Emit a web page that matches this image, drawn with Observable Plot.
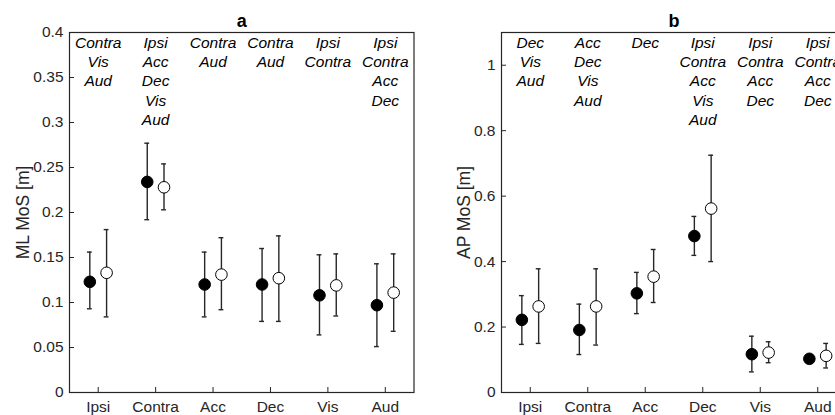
<!DOCTYPE html>
<html>
<head>
<meta charset="utf-8">
<script src="https://cdn.jsdelivr.net/npm/d3@7"></script>
<script src="https://cdn.jsdelivr.net/npm/@observablehq/plot@0.6"></script>
<style>
  html, body { margin: 0; padding: 0; background: white; }
  #wrap { position: relative; width: 835px; height: 415px; overflow: hidden; background: white; }
  #wrap > div { position: absolute; top: 0; }
  #pa { left: 0; width: 420px; }
  #pb { left: 420px; width: 440px; }
  svg { display: block; }
</style>
</head>
<body>
<div id="wrap"><div id="pa"></div><div id="pb"></div></div>
<script>
// Conditions along the x axis
const categories = ["Ipsi", "Contra", "Acc", "Dec", "Vis", "Aud"];

// Mediolateral margin of stability [m] — filled markers
const mlFilledMean = [0.123, 0.234, 0.120, 0.120, 0.108, 0.097];
const mlFilledLow  = [0.093, 0.192, 0.084, 0.079, 0.064, 0.051];
const mlFilledHigh = [0.156, 0.277, 0.156, 0.160, 0.153, 0.143];
// Mediolateral — open markers
const mlOpenMean = [0.133, 0.228, 0.131, 0.127, 0.119, 0.111];
const mlOpenLow  = [0.084, 0.203, 0.092, 0.079, 0.085, 0.068];
const mlOpenHigh = [0.181, 0.254, 0.172, 0.174, 0.154, 0.154];

// Anteroposterior margin of stability [m] — filled markers
const apFilledMean = [0.222, 0.191, 0.303, 0.478, 0.117, 0.103];
const apFilledLow  = [0.147, 0.116, 0.241, 0.419, 0.063, 0.096];
const apFilledHigh = [0.296, 0.270, 0.367, 0.538, 0.172, 0.110];
// Anteroposterior — open markers
const apOpenMean = [0.263, 0.263, 0.354, 0.562, 0.122, 0.112];
const apOpenLow  = [0.150, 0.145, 0.275, 0.400, 0.091, 0.075];
const apOpenHigh = [0.378, 0.378, 0.437, 0.725, 0.155, 0.150];

// Significant pairwise differences listed above each condition
const mlNotes = ["Contra\nVis\nAud", "Ipsi\nAcc\nDec\nVis\nAud", "Contra\nAud", "Contra\nAud", "Ipsi\nContra", "Ipsi\nContra\nAcc\nDec"];
const apNotes = ["Dec\nVis\nAud", "Acc\nDec\nVis\nAud", "Dec", "Ipsi\nContra\nAcc\nVis\nAud", "Ipsi\nContra\nAcc\nDec", "Ipsi\nContra\nAcc\nDec"];

// Axis ticks
const mlTicks = [0, 0.05, 0.1, 0.15, 0.2, 0.25, 0.3, 0.35, 0.4];
const apTicks = [0, 0.2, 0.4, 0.6, 0.8, 1];

const INK = "#262626";
const HEIGHT = 415, MT = 32, MB = 23;
const SHIFT = 0.146; // horizontal offset of the paired markers

function rows(filled, open) {
  const out = [];
  categories.forEach((c, i) => {
    out.push({x: i + 1 - SHIFT, mean: filled[0][i], lo: filled[1][i], hi: filled[2][i], open: false});
    out.push({x: i + 1 + SHIFT, mean: open[0][i], lo: open[1][i], hi: open[2][i], open: true});
  });
  return out;
}

function panel({data, notes, title, yLabel, yDomain, yTicks, width, marginLeft, marginRight, labelDx}) {
  const plotW = width - marginLeft - marginRight;
  const plotH = HEIGHT - MT - MB;
  const xs = d3.range(1, categories.length + 1);
  return Plot.plot({
    width, height: HEIGHT,
    marginTop: MT, marginBottom: MB, marginLeft, marginRight,
    x: {domain: [0.5, 6.5], axis: null},
    y: {domain: yDomain, axis: null},
    style: {fontFamily: "'Liberation Sans', Arial, sans-serif", fontSize: "15.5px", color: INK, background: "white"},
    marks: [
      Plot.frame({stroke: INK, strokeWidth: 1.2}),
      Plot.axisY({ticks: yTicks, tickSize: 0, tickPadding: 6, label: null, tickFormat: d => String(d), fill: INK}),
      Plot.tickY(yTicks, {y: d => d, insetRight: plotW - 5, stroke: INK, strokeWidth: 1}),
      Plot.axisX({ticks: xs, tickSize: 0, tickPadding: 8, label: null, tickFormat: i => categories[i - 1], fill: INK}),
      Plot.tickX(xs, {x: d => d, insetTop: plotH - 5, stroke: INK, strokeWidth: 1}),
      // error bars with caps
      Plot.ruleX(data, {x: "x", y1: "lo", y2: "hi", stroke: INK, strokeWidth: 1.4}),
      Plot.ruleY(data, {y: "hi", x1: d => d.x - 0.042, x2: d => d.x + 0.042, stroke: INK, strokeWidth: 1.4}),
      Plot.ruleY(data, {y: "lo", x1: d => d.x - 0.042, x2: d => d.x + 0.042, stroke: INK, strokeWidth: 1.4}),
      Plot.dot(data, {x: "x", y: "mean", r: 5.8, fill: d => d.open ? "white" : "black", stroke: "black", strokeWidth: 1}),
      // pairwise annotations
      Plot.text(notes, {x: (d, i) => i + 1, text: d => d, frameAnchor: "top", lineAnchor: "top", dy: 1.5,
        fontStyle: "italic", lineHeight: 1.245, fill: "black"}),
      // panel letter
      Plot.text([title], {frameAnchor: "top", dy: -17.8, fontWeight: "bold", fontSize: 18, fill: "black"}),
      // y-axis title, centred on the frame
      Plot.text([yLabel], {x: 0.5, y: (yDomain[0] + yDomain[1]) / 2, rotate: -90, dx: labelDx,
        textAnchor: "middle", lineAnchor: "middle", fontSize: 17.5, fill: INK})
    ]
  });
}

document.getElementById("pa").append(panel({
  data: rows([mlFilledMean, mlFilledLow, mlFilledHigh], [mlOpenMean, mlOpenLow, mlOpenHigh]),
  notes: mlNotes, title: "a", yLabel: "ML MoS [m]",
  yDomain: [0, 0.4], yTicks: mlTicks,
  width: 420, marginLeft: 69, marginRight: 6.5, labelDx: -46.5
}));

document.getElementById("pb").append(panel({
  data: rows([apFilledMean, apFilledLow, apFilledHigh], [apOpenMean, apOpenLow, apOpenHigh]),
  notes: apNotes, title: "b", yLabel: "AP MoS [m]",
  yDomain: [0, 1.1], yTicks: apTicks,
  width: 440, marginLeft: 81, marginRight: 14, labelDx: -37
}));
</script>
</body>
</html>
